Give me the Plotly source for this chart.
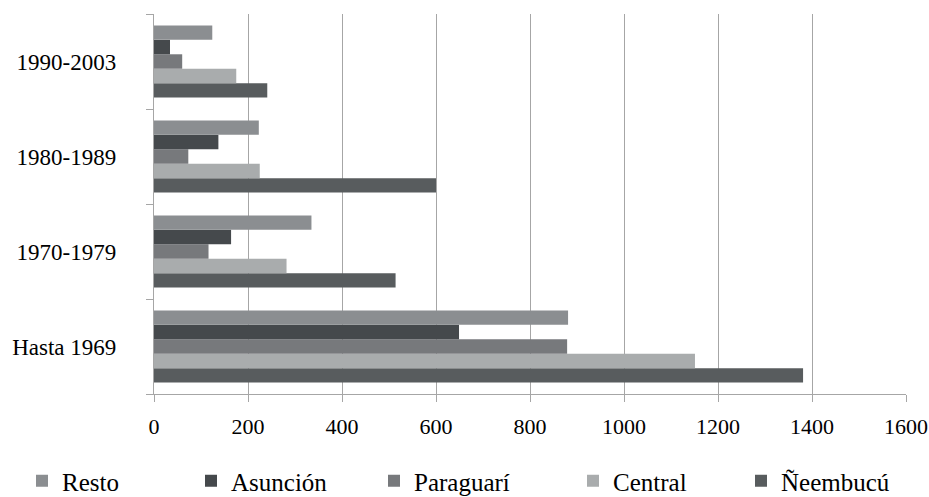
import plotly.graph_objects as go

categories = ["Hasta 1969", "1970-1979", "1980-1989", "1990-2003"]
series_names = ["Resto", "Asunción", "Paraguarí", "Central", "Ñeembucú"]
resto = [881, 335, 223, 124]
asuncion = [649, 164, 137, 34]
paraguari = [879, 116, 73, 60]
central = [1151, 282, 225, 175]
neembucu = [1381, 514, 600, 241]
colors = ["#8b8e91", "#45494c", "#77797c", "#a9acad", "#585c5e"]
x_ticks = [0, 200, 400, 600, 800, 1000, 1200, 1400, 1600]

values = [resto, asuncion, paraguari, central, neembucu]
legend_ids = ["legend", "legend2", "legend3", "legend4", "legend5"]
legend_x_px = [22, 191, 374, 573, 741]  # left edges of legend boxes (px)

W, H = 929, 497
ml, mr, mt, mb = 154, 23, 14, 103
pw = W - ml - mr
ph = H - mt - mb

fig = go.Figure()
# add in reverse so that Resto sits at the top of each group
for i in reversed(range(len(series_names))):
    fig.add_trace(go.Bar(
        y=categories, x=values[i], name=series_names[i], orientation="h",
        marker=dict(color=colors[i], line=dict(width=0)),
        legend=legend_ids[i],
    ))

font_family = "Liberation Serif"
layout_legends = {}
for i, lid in enumerate(legend_ids):
    layout_legends[lid] = dict(
        x=(legend_x_px[i] - ml) / pw, xanchor="left",
        y=(mt + ph - 481) / ph, yanchor="middle",
        yref="paper", xref="paper",
        orientation="h", bgcolor="rgba(0,0,0,0)",
        font=dict(family=font_family, size=25, color="#000000"),
        borderwidth=0, itemwidth=30,
    )

fig.update_layout(
    width=W, height=H,
    margin=dict(l=ml, r=mr, t=mt, b=mb, autoexpand=False),
    paper_bgcolor="white", plot_bgcolor="white",
    barmode="group", bargap=0.24, bargroupgap=0,
    font=dict(family=font_family, size=22, color="#000000"),
    showlegend=True,
    **layout_legends,
)
fig.update_xaxes(
    range=[0, 1600], tickvals=x_ticks, ticktext=[str(v) for v in x_ticks],
    showgrid=True, gridcolor="#a6a6a6", gridwidth=1.3,
    showline=True, linecolor="#a6a6a6", linewidth=1.3,
    ticks="outside", ticklen=7, tickcolor="#a6a6a6", tickwidth=1.3,
    zeroline=False, ticklabelstandoff=5, automargin=False,
    ticklabeloverflow="allow",
    tickfont=dict(family=font_family, size=22, color="#000000"),
)
fig.update_yaxes(
    type="category", categoryorder="array", categoryarray=categories,
    range=[-0.5, 3.5],
    showgrid=False, showline=True, linecolor="#a6a6a6", linewidth=1.3,
    ticks="outside", ticklen=7, tickcolor="#a6a6a6", tickwidth=1.3,
    tickson="boundaries", ticklabelstandoff=32, automargin=False,
    ticklabeloverflow="allow",
    tickfont=dict(family=font_family, size=23, color="#000000"),
)

fig.write_html(
    "out.html",
    config={"displayModeBar": False},
    post_script="document.body.style.margin='0px';document.body.style.overflow='hidden';",
)
